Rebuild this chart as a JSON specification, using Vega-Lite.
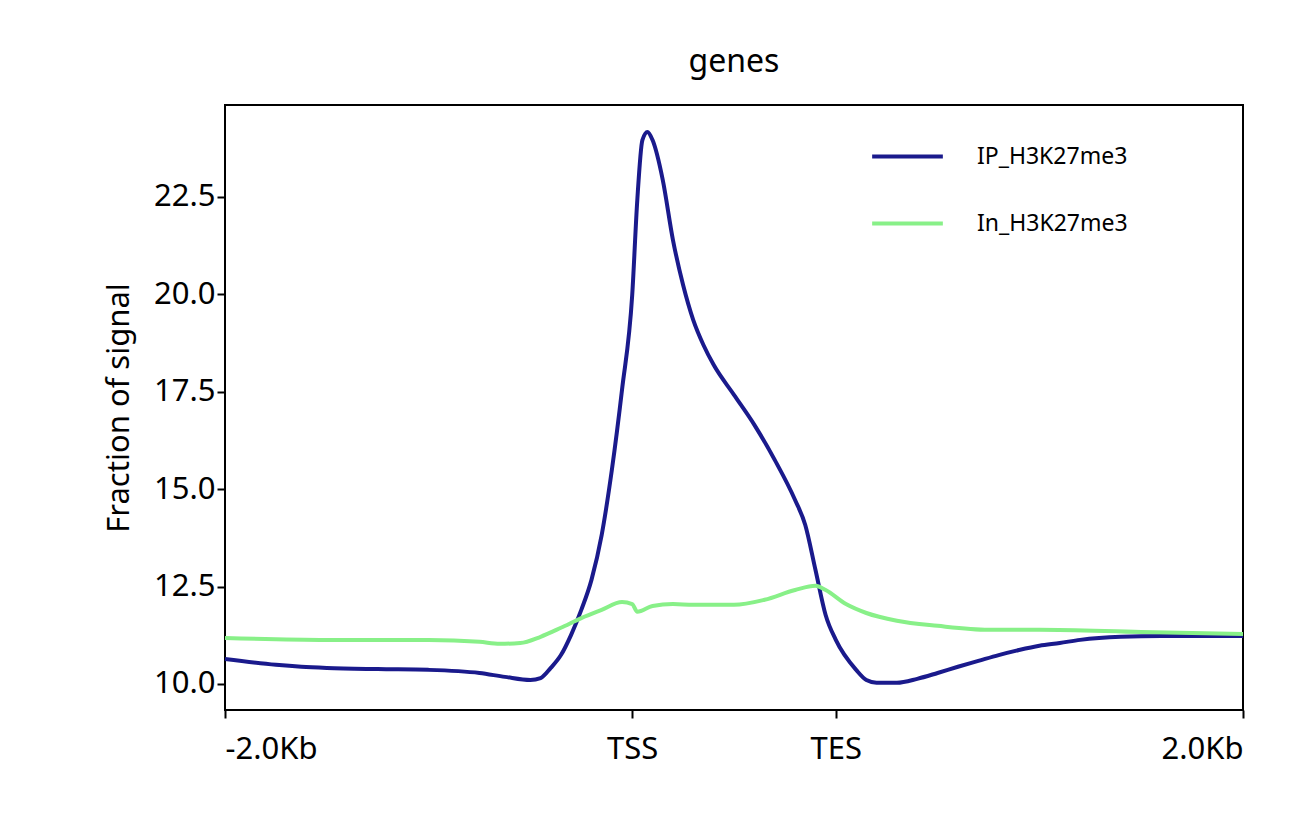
{
  "$schema": "https://vega.github.io/schema/vega-lite/v6.json",
  "width": 1018,
  "height": 605,
  "autosize": {"type": "none"},
  "padding": {"left": 225, "top": 105, "right": 56, "bottom": 117},
  "background": "white",
  "config": {
    "font": "Noto Sans",
    "view": {"stroke": "black", "strokeWidth": 2},
    "axis": {"grid": false, "domain": false, "tickColor": "black", "tickWidth": 2, "tickSize": 8, "labelFontSize": 31, "labelColor": "black", "titleFontSize": 31, "titleFontWeight": "normal", "titleColor": "black"}
  },
  "title": {"text": "genes", "fontSize": 32, "fontWeight": "normal", "font": "Noto Sans", "offset": 26},
  "data": {
    "values": [
      {"x": 0, "s": "IP_H3K27me3", "v": 10.64}, {"x": 5, "s": "IP_H3K27me3", "v": 10.49}, {"x": 7.5, "s": "IP_H3K27me3", "v": 10.44},
      {"x": 10, "s": "IP_H3K27me3", "v": 10.41}, {"x": 15, "s": "IP_H3K27me3", "v": 10.38}, {"x": 20, "s": "IP_H3K27me3", "v": 10.36},
      {"x": 25, "s": "IP_H3K27me3", "v": 10.28}, {"x": 27.5, "s": "IP_H3K27me3", "v": 10.18}, {"x": 30, "s": "IP_H3K27me3", "v": 10.1},
      {"x": 31, "s": "IP_H3K27me3", "v": 10.15}, {"x": 32, "s": "IP_H3K27me3", "v": 10.41}, {"x": 33, "s": "IP_H3K27me3", "v": 10.74},
      {"x": 34, "s": "IP_H3K27me3", "v": 11.26}, {"x": 35, "s": "IP_H3K27me3", "v": 11.9}, {"x": 36, "s": "IP_H3K27me3", "v": 12.67},
      {"x": 37, "s": "IP_H3K27me3", "v": 13.82}, {"x": 38, "s": "IP_H3K27me3", "v": 15.49}, {"x": 39, "s": "IP_H3K27me3", "v": 17.55},
      {"x": 40, "s": "IP_H3K27me3", "v": 19.98}, {"x": 40.5, "s": "IP_H3K27me3", "v": 22.42}, {"x": 41, "s": "IP_H3K27me3", "v": 23.96},
      {"x": 41.5, "s": "IP_H3K27me3", "v": 24.17}, {"x": 42, "s": "IP_H3K27me3", "v": 23.96}, {"x": 43, "s": "IP_H3K27me3", "v": 22.94},
      {"x": 44, "s": "IP_H3K27me3", "v": 21.4}, {"x": 45, "s": "IP_H3K27me3", "v": 20.24}, {"x": 46, "s": "IP_H3K27me3", "v": 19.34},
      {"x": 47, "s": "IP_H3K27me3", "v": 18.7}, {"x": 48, "s": "IP_H3K27me3", "v": 18.19}, {"x": 50, "s": "IP_H3K27me3", "v": 17.42},
      {"x": 52, "s": "IP_H3K27me3", "v": 16.65}, {"x": 54, "s": "IP_H3K27me3", "v": 15.75}, {"x": 56, "s": "IP_H3K27me3", "v": 14.72},
      {"x": 57, "s": "IP_H3K27me3", "v": 14.08}, {"x": 58, "s": "IP_H3K27me3", "v": 12.93}, {"x": 59, "s": "IP_H3K27me3", "v": 11.77},
      {"x": 60, "s": "IP_H3K27me3", "v": 11.13}, {"x": 62, "s": "IP_H3K27me3", "v": 10.36}, {"x": 63, "s": "IP_H3K27me3", "v": 10.1},
      {"x": 64, "s": "IP_H3K27me3", "v": 10.03}, {"x": 66, "s": "IP_H3K27me3", "v": 10.03}, {"x": 68, "s": "IP_H3K27me3", "v": 10.13},
      {"x": 70, "s": "IP_H3K27me3", "v": 10.28}, {"x": 72, "s": "IP_H3K27me3", "v": 10.44}, {"x": 74, "s": "IP_H3K27me3", "v": 10.59},
      {"x": 76, "s": "IP_H3K27me3", "v": 10.74}, {"x": 78, "s": "IP_H3K27me3", "v": 10.87}, {"x": 80, "s": "IP_H3K27me3", "v": 10.98},
      {"x": 82, "s": "IP_H3K27me3", "v": 11.05}, {"x": 84, "s": "IP_H3K27me3", "v": 11.13}, {"x": 88, "s": "IP_H3K27me3", "v": 11.21},
      {"x": 92, "s": "IP_H3K27me3", "v": 11.23}, {"x": 96, "s": "IP_H3K27me3", "v": 11.23}, {"x": 100, "s": "IP_H3K27me3", "v": 11.23},
      {"x": 0, "s": "In_H3K27me3", "v": 11.18}, {"x": 10, "s": "In_H3K27me3", "v": 11.13}, {"x": 20, "s": "In_H3K27me3", "v": 11.13},
      {"x": 25, "s": "In_H3K27me3", "v": 11.08}, {"x": 27, "s": "In_H3K27me3", "v": 11.03}, {"x": 29, "s": "In_H3K27me3", "v": 11.05},
      {"x": 31, "s": "In_H3K27me3", "v": 11.21}, {"x": 33, "s": "In_H3K27me3", "v": 11.44}, {"x": 35, "s": "In_H3K27me3", "v": 11.69},
      {"x": 37, "s": "In_H3K27me3", "v": 11.9}, {"x": 39, "s": "In_H3K27me3", "v": 12.1}, {"x": 40, "s": "In_H3K27me3", "v": 12.05},
      {"x": 40.5, "s": "In_H3K27me3", "v": 11.85}, {"x": 42, "s": "In_H3K27me3", "v": 12.0}, {"x": 44, "s": "In_H3K27me3", "v": 12.05},
      {"x": 46, "s": "In_H3K27me3", "v": 12.03}, {"x": 50, "s": "In_H3K27me3", "v": 12.03}, {"x": 53, "s": "In_H3K27me3", "v": 12.16},
      {"x": 56, "s": "In_H3K27me3", "v": 12.41}, {"x": 58, "s": "In_H3K27me3", "v": 12.52}, {"x": 59, "s": "In_H3K27me3", "v": 12.41},
      {"x": 61, "s": "In_H3K27me3", "v": 12.05}, {"x": 63, "s": "In_H3K27me3", "v": 11.82}, {"x": 66, "s": "In_H3K27me3", "v": 11.62},
      {"x": 70, "s": "In_H3K27me3", "v": 11.49}, {"x": 75, "s": "In_H3K27me3", "v": 11.39}, {"x": 80, "s": "In_H3K27me3", "v": 11.39},
      {"x": 90, "s": "In_H3K27me3", "v": 11.33}, {"x": 100, "s": "In_H3K27me3", "v": 11.28}
    ]
  },
  "mark": {"type": "line", "strokeWidth": 4, "interpolate": "monotone"},
  "encoding": {
    "x": {
      "field": "x", "type": "quantitative",
      "scale": {"domain": [0, 100], "nice": false, "zero": false},
      "axis": {"values": [0, 40, 60, 100], "title": null, "labelFlush": true, "labelPadding": 16,
        "labelExpr": "datum.value == 0 ? '-2.0Kb' : datum.value == 40 ? 'TSS' : datum.value == 60 ? 'TES' : '2.0Kb'"}
    },
    "y": {
      "field": "v", "type": "quantitative",
      "scale": {"domain": [9.33, 24.86], "nice": false, "zero": false},
      "axis": {"values": [10, 12.5, 15, 17.5, 20, 22.5], "format": ".1f", "title": "Fraction of signal", "titlePadding": 18}
    },
    "color": {
      "field": "s", "type": "nominal",
      "scale": {"domain": ["IP_H3K27me3", "In_H3K27me3"], "range": ["#1a1a8c", "#88f088"]},
      "legend": {"title": null, "orient": "none", "legendX": 645, "legendY": 14, "symbolType": "stroke", "symbolStrokeWidth": 4, "symbolSize": 5000, "labelFontSize": 23, "rowPadding": 17, "labelOffset": 32}
    }
  }
}
